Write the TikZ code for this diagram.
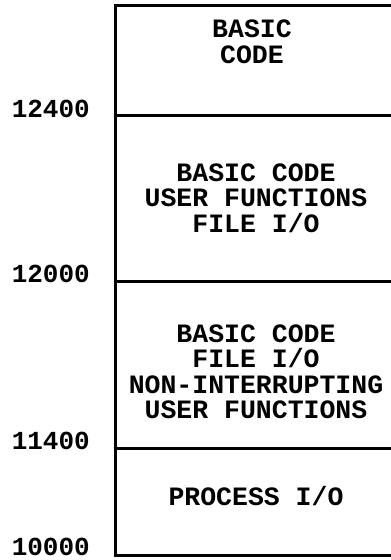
\documentclass[tikz,border=0pt]{standalone}
\usepackage{fontspec}
\newfontfamily\memfont{Liberation Mono}
\usetikzlibrary{positioning}
\tikzset{region/.style={font=\memfont\bfseries\fontsize{26.5}{25.5}\selectfont, align=center, inner sep=0pt},
         addr/.style={font=\memfont\bfseries\fontsize{26}{25.5}\selectfont, anchor=base east, inner sep=0pt},
         wall/.style={black, line width=3pt, line cap=rect}}

\begin{document}
\begin{tikzpicture}[x=1pt, y=1pt]
    \useasboundingbox (0,0) rectangle (391,560);
    %Memory map
    \coordinate (top) at (115,554);
    \coordinate (bot) at (115,4);
    \draw[wall] (391,554) -- (top) -- (bot) -- (391,4);
    \foreach \y/\n in {444/12400, 278/12000, 111/11400}
      \draw[wall] (115,\y) -- (391,\y);
    %Addresses
    \node[addr] (a12400) at (90,442) {12400};
    \node[addr] (a12000) at (90,277) {12000};
    \node[addr] (a11400) at (90,110) {11400};
    \node[addr] (a10000) at (90,5) {10000};
    %Contents
    \node[region] (basic) at (252,518) {BASIC\\ CODE};
    \node[region] (user) at (256,362) {BASIC CODE\\USER FUNCTIONS\\FILE I/O};
    \node[region] (nonint) at (256,188) {BASIC CODE\\FILE I/O\\NON-INTERRUPTING\\USER FUNCTIONS};
    \node[region] (proc) at (256,64) {PROCESS I/O};
  \end{tikzpicture}
\end{document}
